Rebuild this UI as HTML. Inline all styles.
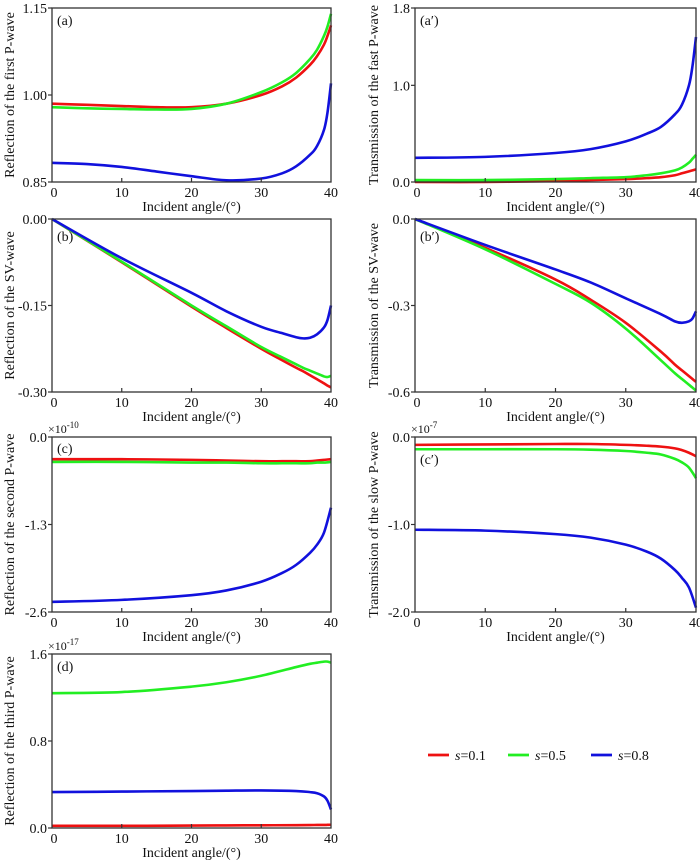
<!DOCTYPE html>
<html><head><meta charset="utf-8"><style>
html,body{margin:0;padding:0;background:#fff;}
svg{display:block;font-family:"Liberation Serif",serif;}
</style></head><body>
<svg id="fig" width="700" height="860" viewBox="0 0 700 860"></svg>
<script>
// ---- data (angles in degrees) ----
const aX=[0,5,10,15,20,25,30,33,35,37,38,39,39.5,40];
const aRed=[0.985,0.983,0.981,0.979,0.979,0.985,1.0,1.015,1.03,1.052,1.067,1.087,1.102,1.12];
const aGreen=[0.979,0.977,0.976,0.975,0.976,0.985,1.005,1.022,1.038,1.062,1.078,1.102,1.118,1.14];
const aBlue=[0.883,0.881,0.876,0.868,0.860,0.853,0.856,0.865,0.877,0.897,0.912,0.94,0.97,1.02];

const apX=[0,10,20,25,30,33,35,37,38,39,39.5,40];
const apRed=[0.0,0.0,0.01,0.02,0.03,0.04,0.05,0.07,0.09,0.11,0.12,0.13];
const apGreen=[0.02,0.02,0.03,0.04,0.05,0.07,0.09,0.12,0.15,0.20,0.24,0.28];
const apBlue=[0.25,0.26,0.30,0.34,0.42,0.50,0.57,0.70,0.80,1.0,1.2,1.5];

const bX=[0,10,20,25,30,33,35,36,37,38,39,39.5,40];
const bRed=[0,-0.075,-0.152,-0.189,-0.225,-0.245,-0.258,-0.264,-0.271,-0.278,-0.285,-0.289,-0.292];
const bGreen=[0,-0.074,-0.150,-0.186,-0.222,-0.240,-0.252,-0.258,-0.263,-0.268,-0.273,-0.274,-0.272];
const bBlue=[0,-0.068,-0.128,-0.160,-0.187,-0.198,-0.205,-0.207,-0.206,-0.200,-0.188,-0.175,-0.150];

const bpX=[0,10,20,25,30,35,37,38,39,39.5,40];
const bpRed=[0,-0.10,-0.21,-0.28,-0.36,-0.46,-0.505,-0.525,-0.545,-0.555,-0.565];
const bpGreen=[0,-0.105,-0.225,-0.29,-0.38,-0.49,-0.535,-0.555,-0.575,-0.585,-0.595];
const bpBlue=[0,-0.09,-0.175,-0.22,-0.275,-0.33,-0.355,-0.36,-0.355,-0.345,-0.32];

const cX=[0,10,20,25,30,33,35,37,38,39,40];
const cRed=[-0.33,-0.33,-0.34,-0.35,-0.36,-0.36,-0.36,-0.36,-0.35,-0.34,-0.33];
const cGreen=[-0.37,-0.37,-0.38,-0.38,-0.39,-0.39,-0.39,-0.39,-0.38,-0.38,-0.37];
const cBlue=[-2.45,-2.42,-2.35,-2.28,-2.15,-2.02,-1.90,-1.72,-1.60,-1.42,-1.05];

const cpX=[0,10,20,25,30,33,35,37,38,39,40];
const cpRed=[-0.09,-0.085,-0.08,-0.08,-0.09,-0.10,-0.11,-0.13,-0.15,-0.18,-0.22];
const cpGreen=[-0.14,-0.14,-0.14,-0.145,-0.16,-0.18,-0.20,-0.25,-0.29,-0.35,-0.47];
const cpBlue=[-1.06,-1.07,-1.11,-1.15,-1.23,-1.31,-1.39,-1.52,-1.61,-1.72,-1.95];

const dX=[0,10,20,25,30,35,37,38,39,39.5,40];
const dRed=[0.02,0.02,0.022,0.024,0.025,0.026,0.027,0.028,0.028,0.029,0.03];
const dGreen=[1.24,1.25,1.30,1.34,1.40,1.48,1.51,1.52,1.53,1.53,1.52];
const dBlue=[0.33,0.335,0.34,0.343,0.345,0.34,0.33,0.32,0.29,0.25,0.17];

const xTicks=[0,10,20,30,40];
const colors={red:"#ee1111",green:"#22ee22",blue:"#1111dd"};

const NS="http://www.w3.org/2000/svg";
const svg=document.getElementById("fig");
function mk(tag,attrs,parent){const e=document.createElementNS(NS,tag);for(const k in attrs)e.setAttribute(k,attrs[k]);(parent||svg).appendChild(e);return e;}

function smooth(pts){
  let d="M"+pts[0][0].toFixed(2)+","+pts[0][1].toFixed(2);
  for(let i=0;i<pts.length-1;i++){
    const p0=pts[Math.max(0,i-1)],p1=pts[i],p2=pts[i+1],p3=pts[Math.min(pts.length-1,i+2)];
    const c1=[p1[0]+(p2[0]-p0[0])/6,p1[1]+(p2[1]-p0[1])/6];
    const c2=[p2[0]-(p3[0]-p1[0])/6,p2[1]-(p3[1]-p1[1])/6];
    d+="C"+c1[0].toFixed(2)+","+c1[1].toFixed(2)+" "+c2[0].toFixed(2)+","+c2[1].toFixed(2)+" "+p2[0].toFixed(2)+","+p2[1].toFixed(2);
  }
  return d;
}

function panel(o){
  const g=mk("g",{});
  
  
  const L=o.x0,R=o.x1,T=o.y0,B=o.y1;
  const sx=v=>L+(v/40)*(R-L);
  const sy=v=>B-(v-o.ymin)/(o.ymax-o.ymin)*(B-T);
  o.series.forEach(s=>{
    const pts=s.xs.map((x,i)=>[sx(x),sy(s.ys[i])]);
    const p=mk("path",{d:smooth(pts),fill:"none",stroke:colors[s.c],"stroke-width":2.6,"stroke-linejoin":"round"},g);
    
    
  });
  const fr=mk("rect",{x:L,y:T,width:R-L,height:B-T,fill:"none",stroke:"#333","stroke-width":1.3},g);
  
  
  xTicks.forEach(t=>{
    const x=sx(t);
    if(t>0&&t<40) mk("line",{x1:x,x2:x,y1:B,y2:B-4,stroke:"#333","stroke-width":1.2},g);
    const tl=mk("text",{x:x+(t==0?2:0),y:B+15,"text-anchor":"middle","font-size":14,fill:"#111"},g);
    tl.textContent=t;
    
    
  });
  o.yt.forEach((t,i)=>{
    const y=sy(t);
    mk("line",{x1:L,x2:L-4,y1:y,y2:y,stroke:"#333","stroke-width":1.2},g);
    const tl=mk("text",{x:L-5,y:y+5,"text-anchor":"end","font-size":14,fill:"#111"},g);
    tl.textContent=o.ytl[i];
    
    
  });
  const xt=mk("text",{x:(L+R)/2,y:B+29,"text-anchor":"middle","font-size":14,fill:"#111"},g);
  xt.textContent="Incident angle/(°)";
  
  
  const cy=(T+B)/2;
  const yt=mk("text",{x:o.ylx,y:cy,"text-anchor":"middle","font-size":14,fill:"#111",transform:"rotate(-90 "+o.ylx+" "+cy+")"},g);
  yt.textContent=o.ylabel;
  
  
  const pl=mk("text",{x:L+5,y:T+(o.labDy||17),"font-size":14,fill:"#111"},g);
  pl.textContent=o.tag;
  
  
  if(o.exp){
    const ex=mk("text",{x:L-4,y:T-4,"font-size":12,fill:"#111"},g);
    ex.innerHTML='×10<tspan dy="-5" font-size="9">'+o.exp+'</tspan>';
    
    
  }
}
const LX=[52,331],RX=[415,696];
const rows=[[8,182],[219,392],[437,612],[654,828]];
panel({name:"panel-a",tag:"(a)",x0:LX[0],x1:LX[1],y0:rows[0][0],y1:rows[0][1],ymin:0.85,ymax:1.15,yt:[0.85,1.0,1.15],ytl:["0.85","1.00","1.15"],ylx:14,ylabel:"Reflection of the first P-wave",
 series:[{xs:aX,ys:aRed,c:"red"},{xs:aX,ys:aGreen,c:"green"},{xs:aX,ys:aBlue,c:"blue"}]});
panel({name:"panel-a-prime",tag:"(a′)",x0:RX[0],x1:RX[1],y0:rows[0][0],y1:rows[0][1],ymin:0,ymax:1.8,yt:[0,1.0,1.8],ytl:["0.0","1.0","1.8"],ylx:378,ylabel:"Transmission of the fast P-wave",
 series:[{xs:apX,ys:apRed,c:"red"},{xs:apX,ys:apGreen,c:"green"},{xs:apX,ys:apBlue,c:"blue"}]});
panel({name:"panel-b",tag:"(b)",x0:LX[0],x1:LX[1],y0:rows[1][0],y1:rows[1][1],ymin:-0.30,ymax:0,yt:[-0.30,-0.15,0],ytl:["-0.30","-0.15","0.00"],ylx:14,ylabel:"Reflection of the SV-wave",labDy:22,
 series:[{xs:bX,ys:bRed,c:"red"},{xs:bX,ys:bGreen,c:"green"},{xs:bX,ys:bBlue,c:"blue"}]});
panel({name:"panel-b-prime",tag:"(b′)",x0:RX[0],x1:RX[1],y0:rows[1][0],y1:rows[1][1],ymin:-0.6,ymax:0,yt:[-0.6,-0.3,0],ytl:["-0.6","-0.3","0.0"],ylx:378,ylabel:"Transmission of the SV-wave",labDy:22,
 series:[{xs:bpX,ys:bpRed,c:"red"},{xs:bpX,ys:bpGreen,c:"green"},{xs:bpX,ys:bpBlue,c:"blue"}]});
panel({name:"panel-c",tag:"(c)",x0:LX[0],x1:LX[1],y0:rows[2][0],y1:rows[2][1],ymin:-2.6,ymax:0,yt:[-2.6,-1.3,0],ytl:["-2.6","-1.3","0.0"],ylx:14,ylabel:"Reflection of the second P-wave",exp:"-10",labDy:16,
 series:[{xs:cX,ys:cRed,c:"red"},{xs:cX,ys:cGreen,c:"green"},{xs:cX,ys:cBlue,c:"blue"}]});
panel({name:"panel-c-prime",tag:"(c′)",x0:RX[0],x1:RX[1],y0:rows[2][0],y1:rows[2][1],ymin:-2.0,ymax:0,yt:[-2.0,-1.0,0],ytl:["-2.0","-1.0","0.0"],ylx:378,ylabel:"Transmission of the slow P-wave",exp:"-7",labDy:27,
 series:[{xs:cpX,ys:cpRed,c:"red"},{xs:cpX,ys:cpGreen,c:"green"},{xs:cpX,ys:cpBlue,c:"blue"}]});
panel({name:"panel-d",tag:"(d)",x0:LX[0],x1:LX[1],y0:rows[3][0],y1:rows[3][1],ymin:0,ymax:1.6,yt:[0,0.8,1.6],ytl:["0.0","0.8","1.6"],ylx:14,ylabel:"Reflection of the third P-wave",exp:"-17",
 series:[{xs:dX,ys:dRed,c:"red"},{xs:dX,ys:dGreen,c:"green"},{xs:dX,ys:dBlue,c:"blue"}]});

// legend
(function(){
  const lg=mk("g",{});
  
  
  const items=[["red","0.1",428],["green","0.5",508],["blue","0.8",591]];
  items.forEach(it=>{
    const e=mk("g",{},lg);
    
    
    mk("line",{x1:it[2],x2:it[2]+21,y1:755,y2:755,stroke:colors[it[0]],"stroke-width":2.8},e);
    const t=mk("text",{x:it[2]+27,y:760,"font-size":14,fill:"#111"},e);
    t.innerHTML='<tspan font-style="italic">s</tspan>='+it[1];
  });
})();
</script>
</body></html>
